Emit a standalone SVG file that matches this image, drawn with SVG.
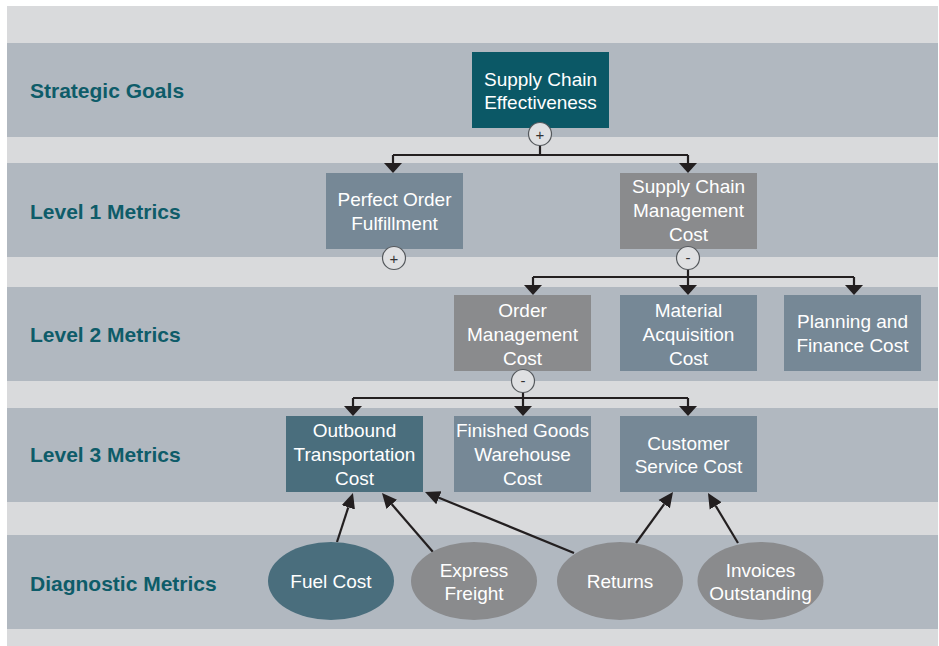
<svg xmlns="http://www.w3.org/2000/svg" width="939" height="646" viewBox="0 0 939 646">
  <defs>
    <marker id="down" markerUnits="userSpaceOnUse" viewBox="0 -10 11 20" markerWidth="11" markerHeight="20" refX="0" refY="0" orient="auto">
      <path d="M0,-9 L10,0 L0,9 z" fill="#231f20"/>
    </marker>
    <marker id="diag" markerUnits="userSpaceOnUse" viewBox="0 -8 16 16" markerWidth="16" markerHeight="16" refX="0" refY="0" orient="auto">
      <path d="M0,-7 L15,0 L0,7 z" fill="#231f20"/>
    </marker>
  </defs>
  <style>
    .band { fill: #b1b8c0; }
    .lbl { font-family: "Liberation Sans", Arial, sans-serif; font-weight: bold; font-size: 21px; fill: #0e5c69; }
    .t { font-family: "Liberation Sans", Arial, sans-serif; font-size: 19px; fill: #ffffff; text-anchor: middle; }
    .teal { fill: #0b5866; }
    .blue { fill: #768896; }
    .gray { fill: #8a8b8d; }
    .dteal { fill: #4a6e7d; }
    .sig { fill: #dfe0e2; stroke: #55595d; stroke-width: 1.2; }
    .sigt { font-family: "Liberation Sans", Arial, sans-serif; font-size: 15px; fill: #333; text-anchor: middle; }
    .ln { fill: none; stroke: #231f20; stroke-width: 2.2; }
  </style>
  <rect x="0" y="0" width="939" height="646" fill="#ffffff"/>
  <rect x="7" y="6" width="931" height="640" fill="#d9dadc"/>
  <g id="bands">
    <rect class="band" x="7" y="43" width="931" height="94"/>
    <rect class="band" x="7" y="163" width="931" height="94"/>
    <rect class="band" x="7" y="287" width="931" height="94"/>
    <rect class="band" x="7" y="408" width="931" height="94"/>
    <rect class="band" x="7" y="535" width="931" height="94"/>
  </g>
  <g id="labels">
    <text class="lbl" x="30" y="98">Strategic Goals</text>
    <text class="lbl" x="30" y="219">Level 1 Metrics</text>
    <text class="lbl" x="30" y="342">Level 2 Metrics</text>
    <text class="lbl" x="30" y="462">Level 3 Metrics</text>
    <text class="lbl" x="30" y="591">Diagnostic Metrics</text>
  </g>
  <g id="connectors">
    <path class="ln" d="M540,145 V155"/>
    <path class="ln" d="M393,155 H688"/>
    <path class="ln" d="M393,155 V163" marker-end="url(#down)"/>
    <path class="ln" d="M688,155 V163" marker-end="url(#down)"/>
    <path class="ln" d="M688,269 V277"/>
    <path class="ln" d="M533,277 H854"/>
    <path class="ln" d="M533,277 V285" marker-end="url(#down)"/>
    <path class="ln" d="M688,277 V285" marker-end="url(#down)"/>
    <path class="ln" d="M854,277 V285" marker-end="url(#down)"/>
    <path class="ln" d="M523,392 V398"/>
    <path class="ln" d="M353,398 H688"/>
    <path class="ln" d="M353,398 V406" marker-end="url(#down)"/>
    <path class="ln" d="M523,398 V406" marker-end="url(#down)"/>
    <path class="ln" d="M688,398 V406" marker-end="url(#down)"/>
    <path class="ln" d="M337,542 L348.3,507.3" marker-end="url(#diag)"/>
    <path class="ln" d="M433,552 L391.8,504.3" marker-end="url(#diag)"/>
    <path class="ln" d="M574,553 L438.9,497.7" marker-end="url(#diag)"/>
    <path class="ln" d="M636,543 L664.2,504.1" marker-end="url(#diag)"/>
    <path class="ln" d="M738,543 L715.7,505.9" marker-end="url(#diag)"/>
  </g>
  <g id="sce">
    <rect class="teal" x="472" y="52" width="137" height="76"/>
    <text class="t" x="540.5" y="86">Supply Chain</text>
    <text class="t" x="540.5" y="109">Effectiveness</text>
  </g>
  <g id="sce-sign">
    <circle class="sig" cx="540" cy="134" r="11.5"/>
    <text class="sigt" x="540" y="139.5">+</text>
  </g>
  <g id="pof">
    <rect class="blue" x="326" y="173" width="137" height="76"/>
    <text class="t" x="394.5" y="206">Perfect Order</text>
    <text class="t" x="394.5" y="230">Fulfillment</text>
  </g>
  <g id="pof-sign">
    <circle class="sig" cx="394" cy="258" r="11.5"/>
    <text class="sigt" x="394" y="263.5">+</text>
  </g>
  <g id="scmc">
    <rect class="gray" x="620" y="173" width="137" height="76"/>
    <text class="t" x="688.5" y="193">Supply Chain</text>
    <text class="t" x="688.5" y="217">Management</text>
    <text class="t" x="688.5" y="241">Cost</text>
  </g>
  <g id="scmc-sign">
    <circle class="sig" cx="688" cy="258" r="11.5"/>
    <text class="sigt" x="688" y="263">-</text>
  </g>
  <g id="omc">
    <rect class="gray" x="454" y="295" width="137" height="76"/>
    <text class="t" x="522.5" y="317">Order</text>
    <text class="t" x="522.5" y="341">Management</text>
    <text class="t" x="522.5" y="365">Cost</text>
  </g>
  <g id="omc-sign">
    <circle class="sig" cx="523" cy="381" r="11.5"/>
    <text class="sigt" x="523" y="386">-</text>
  </g>
  <g id="mac">
    <rect class="blue" x="620" y="295" width="137" height="76"/>
    <text class="t" x="688.5" y="317">Material</text>
    <text class="t" x="688.5" y="341">Acquisition</text>
    <text class="t" x="688.5" y="365">Cost</text>
  </g>
  <g id="pfc">
    <rect class="blue" x="784" y="295" width="137" height="76"/>
    <text class="t" x="852.5" y="328">Planning and</text>
    <text class="t" x="852.5" y="352">Finance Cost</text>
  </g>
  <g id="otc">
    <rect class="dteal" x="286" y="416" width="137" height="76"/>
    <text class="t" x="354.5" y="437">Outbound</text>
    <text class="t" x="354.5" y="461">Transportation</text>
    <text class="t" x="354.5" y="485">Cost</text>
  </g>
  <g id="fgwc">
    <rect class="blue" x="454" y="416" width="137" height="76"/>
    <text class="t" x="522.5" y="437">Finished Goods</text>
    <text class="t" x="522.5" y="461">Warehouse</text>
    <text class="t" x="522.5" y="485">Cost</text>
  </g>
  <g id="csc">
    <rect class="blue" x="620" y="416" width="137" height="76"/>
    <text class="t" x="688.5" y="450">Customer</text>
    <text class="t" x="688.5" y="473">Service Cost</text>
  </g>
  <g id="fuel">
    <ellipse class="dteal" cx="331" cy="581" rx="63" ry="39"/>
    <text class="t" x="331" y="588">Fuel Cost</text>
  </g>
  <g id="express">
    <ellipse class="gray" cx="474" cy="581" rx="63" ry="39"/>
    <text class="t" x="474" y="577">Express</text>
    <text class="t" x="474" y="600">Freight</text>
  </g>
  <g id="returns">
    <ellipse class="gray" cx="620" cy="581" rx="63" ry="39"/>
    <text class="t" x="620" y="588">Returns</text>
  </g>
  <g id="invoices">
    <ellipse class="gray" cx="760.5" cy="581" rx="63" ry="39"/>
    <text class="t" x="760.5" y="577">Invoices</text>
    <text class="t" x="760.5" y="600">Outstanding</text>
  </g>
</svg>
